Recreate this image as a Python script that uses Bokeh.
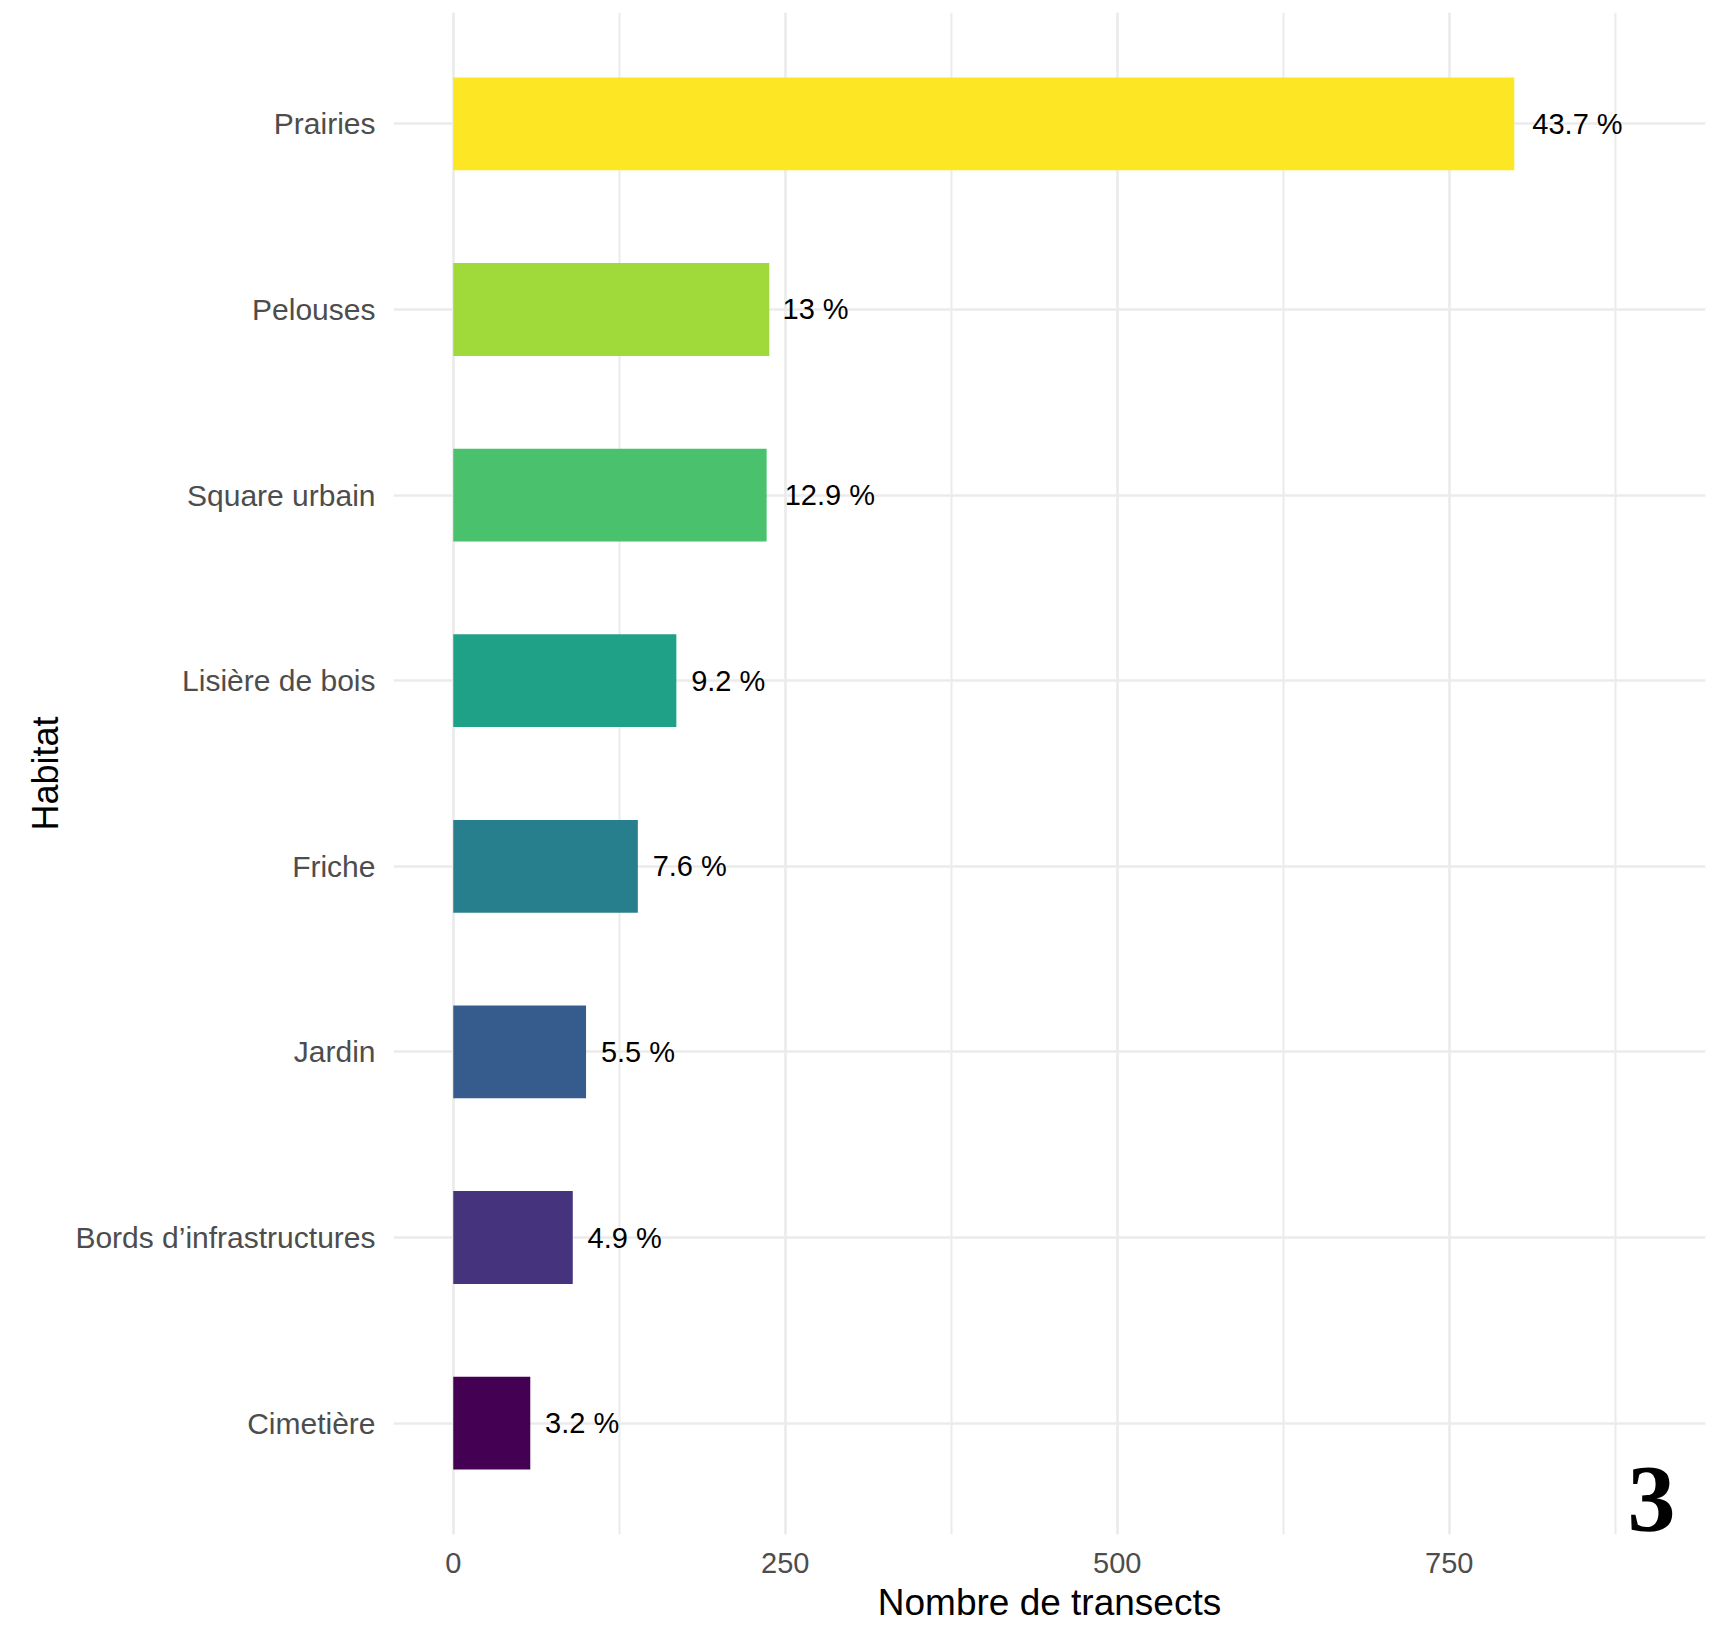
from bokeh.plotting import figure
from bokeh.models import Range1d, FixedTicker, SingleIntervalTicker, Label, ColumnDataSource
from bokeh.embed import file_html
from bokeh.resources import INLINE
from bokeh.core.properties import value

# ---- data ----
habitats = ["Prairies", "Pelouses", "Square urbain", "Lisière de bois", "Friche",
            "Jardin", "Bords d’infrastructures", "Cimetière"]
counts = [799, 238, 236, 168, 139, 100, 90, 58]
pct_labels = ["43.7 %", "13 %", "12.9 %", "9.2 %", "7.6 %", "5.5 %", "4.9 %", "3.2 %"]
colors = ["#FDE725", "#9FDA3A", "#4AC16D", "#1FA187", "#277F8E", "#365C8D", "#46337E", "#440154"]
x_title = "Nombre de transects"
y_title = "Habitat"
panel_number = "3"

FONT = "Liberation Sans"
n = len(habitats)
ypos = [n - i for i in range(n)]  # Prairies on top

# approximate char widths (em) for hjust-like offset of labels
cw = {".": 0.278, " ": 0.278, "%": 0.889}
def text_w(s, size):
    return sum(cw.get(c, 0.556) for c in s) * size

LBL_SIZE = 29
xoff = [0.2 * text_w(s, LBL_SIZE) for s in pct_labels]

src = ColumnDataSource(dict(y=ypos, count=counts, color=colors, pct=pct_labels, xoff=xoff))

p = figure(width=1706, height=1625,
           x_range=Range1d(-45, 943), y_range=Range1d(0.4, 8.6),
           output_backend="svg", toolbar_location=None,
           min_border_left=393, min_border_right=1, min_border_top=12, min_border_bottom=91)
p.outline_line_color = None
p.background_fill_color = "white"
p.border_fill_color = "white"

p.hbar(y="y", left=0, right="count", height=0.5, fill_color="color", line_color=None, source=src)
p.text(x="count", y="y", text="pct", x_offset="xoff", source=src,
       text_baseline="middle", text_align="left",
       text_font=value(FONT), text_font_size=f"{LBL_SIZE}px", text_color="black")

# x axis
xt = SingleIntervalTicker(interval=250, num_minor_ticks=2)
p.xaxis.ticker = xt
p.xgrid.ticker = xt
p.xaxis.axis_label = x_title
p.xaxis.axis_line_color = None
p.xaxis.major_tick_line_color = None
p.xaxis.minor_tick_line_color = None
p.xaxis.major_tick_out = 0
p.xaxis.major_label_standoff = 14
p.xaxis.major_label_text_font = FONT
p.xaxis.major_label_text_font_size = "29px"
p.xaxis.major_label_text_color = "#4d4d4d"
p.xaxis.axis_label_text_font = FONT
p.xaxis.axis_label_text_font_size = "37px"
p.xaxis.axis_label_text_font_style = "normal"
p.xaxis.axis_label_text_color = "black"
p.xaxis.axis_label_standoff = 6

# y axis
p.yaxis.ticker = FixedTicker(ticks=ypos)
p.ygrid.ticker = FixedTicker(ticks=ypos)
p.yaxis.major_label_overrides = {y: h for y, h in zip(ypos, habitats)}
p.yaxis.axis_label = y_title
p.yaxis.axis_line_color = None
p.yaxis.major_tick_line_color = None
p.yaxis.minor_tick_line_color = None
p.yaxis.major_tick_out = 0
p.yaxis.major_label_standoff = 18
p.yaxis.major_label_text_font = FONT
p.yaxis.major_label_text_font_size = "30px"
p.yaxis.major_label_text_color = "#4d4d4d"
p.yaxis.axis_label_text_font = FONT
p.yaxis.axis_label_text_font_size = "36px"
p.yaxis.axis_label_text_font_style = "normal"
p.yaxis.axis_label_text_color = "black"
p.yaxis.axis_label_standoff = 6

# grids
p.xgrid.grid_line_color = "#ebebeb"
p.xgrid.grid_line_width = 2.5
p.xgrid.minor_grid_line_color = "#ebebeb"
p.xgrid.minor_grid_line_width = 2
p.ygrid.grid_line_color = "#ebebeb"
p.ygrid.grid_line_width = 2.5

# panel number (inside the frame, bottom right)
p.add_layout(Label(x=943, y=0.4, x_offset=-30, y_offset=4, text=panel_number,
                   text_align="right",
                   text_font="Liberation Serif", text_font_style="bold",
                   text_font_size="96px", text_color="black"))

open("out.html", "w").write(file_html(p, INLINE))
